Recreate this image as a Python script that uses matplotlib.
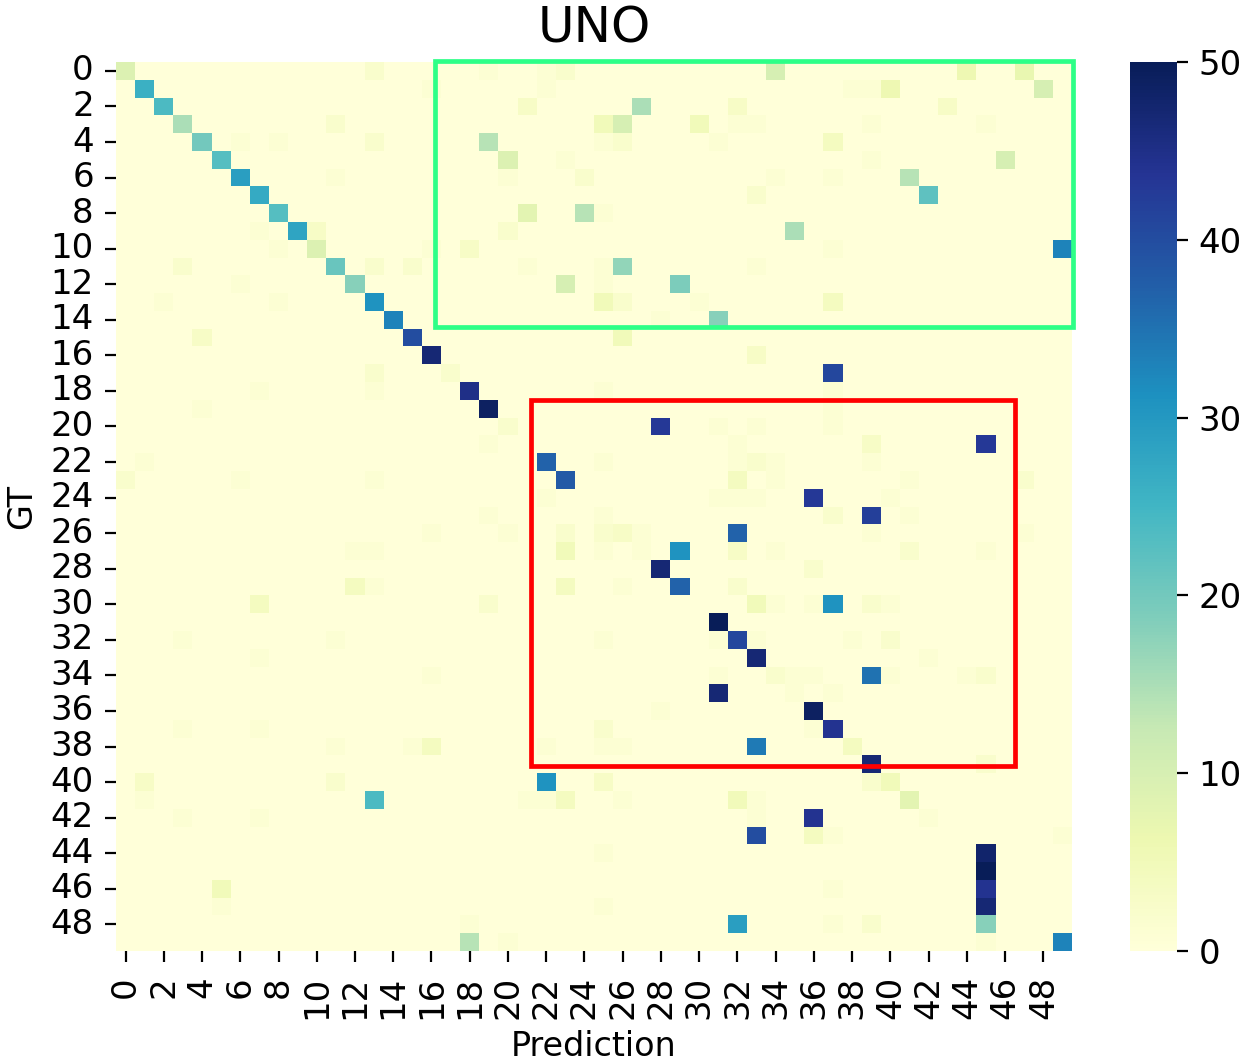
import numpy as np
import matplotlib
matplotlib.use('Agg')
import matplotlib.pyplot as plt
from matplotlib.patches import Rectangle
import seaborn as sns

n_classes = 50

# strong cells of the confusion matrix: GT row, predicted column, count
main_rows = [0, 1, 2, 3, 4, 5, 6, 7, 8, 9, 10, 11, 12, 13, 14, 15, 16, 18, 19, 22, 23,
             17, 20, 21, 24, 25, 26, 27, 28, 29, 30, 31, 32, 33, 34, 35, 36, 37, 38, 39,
             40, 41, 42, 43, 44, 45, 46, 47, 48, 48, 49, 49]
main_cols = [0, 1, 2, 3, 4, 5, 6, 7, 8, 9, 10, 11, 12, 13, 14, 15, 16, 18, 19, 22, 23,
             37, 28, 45, 36, 39, 32, 29, 28, 29, 37, 31, 32, 33, 39, 31, 36, 37, 33, 39,
             22, 13, 36, 33, 45, 45, 45, 45, 32, 45, 18, 49]
main_vals = [9, 26, 24, 15, 20, 23, 29, 27, 23, 28, 9, 21, 18, 31, 33, 40, 47, 45, 49, 37, 38,
             41, 43, 43, 43, 42, 37, 31, 47, 37, 31, 50, 41, 47, 35, 47, 49, 44, 34, 47,
             31, 24, 44, 40, 48, 50, 44, 47, 29, 18, 14, 33]

# off-diagonal cells with a clear tint
mid_rows = [0, 0, 0, 0, 0, 1, 1, 2, 2, 2, 3, 3, 3, 3, 4, 4, 4, 5, 5, 6, 7, 8, 8, 9, 10, 11, 11, 12, 12, 13, 13, 14]
mid_cols = [13, 23, 34, 44, 47, 40, 48, 21, 27, 43, 25, 26, 30, 11, 19, 37, 13, 20, 46, 41, 42, 21, 24, 35, 49, 26, 3, 23, 29, 25, 37, 31]
mid_vals = [2, 2, 10, 6, 7, 6, 10, 3, 15, 3, 5, 10, 5, 2, 14, 4, 2, 9, 10, 14, 22, 8, 14, 15, 33, 17, 2, 10, 19, 5, 4, 18]

# faint cells, top half of the matrix
low_rows = [0, 0, 1, 1, 1, 1, 2, 3, 3, 3, 3, 4, 4, 4, 4, 4, 4, 5, 5, 6, 6, 6, 6, 6, 7, 8,
            9, 9, 9, 10, 10, 10, 10, 11, 11, 11, 11, 11, 11, 12, 12, 12, 13, 13, 13, 13,
            14, 15, 15, 16, 17, 17, 18, 18, 18, 18, 19, 19, 20, 20, 20, 20, 21, 21, 21,
            22, 22, 22, 22, 22, 22, 22, 23, 23, 23, 23, 23, 23, 23, 24, 24, 24, 24, 24]
low_cols = [19, 22, 16, 22, 38, 39, 32, 32, 33, 39, 45, 6, 8, 25, 26, 31, 25, 23, 39, 11, 20, 24, 34, 37, 33, 25,
            7, 20, 10, 8, 16, 18, 37, 13, 15, 21, 25, 33, 11, 6, 25, 25, 2, 8, 26, 30,
            28, 4, 26, 33, 13, 17, 7, 13, 25, 37, 4, 37, 20, 31, 33, 37, 19, 32, 39,
            1, 25, 25, 32, 33, 34, 39, 0, 6, 13, 32, 34, 41, 47, 31, 32, 33, 40, 22]
low_vals = [1, 1, 1, 1, 1, 1, 3, 1, 1, 1, 1, 1, 1, 1, 2, 1, 1, 1, 1, 1, 1, 2, 1, 1, 2, 1,
            1, 2, 3, 1, 1, 3, 1, 2, 2, 1, 1, 1, 21, 1, 1, 1, 1, 1, 2, 1,
            1, 3, 5, 3, 2, 2, 1, 1, 1, 1, 1, 1, 2, 1, 1, 1, 1, 1, 3,
            1, 1, 1, 1, 2, 1, 1, 2, 1, 1, 4, 1, 1, 2, 1, 1, 1, 1, 1]

# faint cells, bottom half of the matrix
low2_rows = [25, 25, 25, 25, 26, 26, 26, 26, 26, 26, 26, 26, 27, 27, 27, 27, 27, 27, 27, 27, 27,
             28, 29, 29, 29, 29, 29, 30, 30, 30, 30, 30, 30, 30, 32, 32, 32, 32, 32, 32, 32,
             33, 33, 34, 34, 34, 34, 34, 34, 34, 34, 35, 35, 36, 37, 37, 37, 37, 38, 38, 38, 38, 38,
             38, 38, 39, 40, 40, 40, 40, 40, 40, 41, 41, 41, 41, 41, 41, 41, 41,
             42, 42, 42, 42, 43, 43, 43, 44, 44, 46, 46, 47, 47, 47, 48, 48, 48, 49, 49, 37]
low2_cols = [19, 25, 37, 41, 16, 20, 23, 25, 26, 27, 39, 47, 12, 13, 23, 25, 27, 32, 34, 41, 45,
             36, 12, 13, 23, 26, 32, 7, 19, 34, 36, 39, 40, 33, 3, 11, 25, 31, 33, 38, 40,
             7, 42, 16, 31, 34, 35, 36, 40, 44, 45, 35, 37, 28, 3, 7, 25, 36, 11, 15, 16, 22, 25,
             26, 38, 45, 1, 11, 25, 39, 40, 25, 1, 21, 22, 23, 26, 32, 33, 41,
             3, 7, 33, 42, 36, 37, 49, 25, 25, 5, 37, 5, 25, 25, 18, 37, 39, 20, 45, 25]
low2_vals = [1, 1, 2, 1, 1, 1, 2, 2, 3, 1, 1, 1, 1, 1, 5, 1, 1, 3, 1, 2, 1,
             2, 4, 1, 4, 1, 2, 4, 2, 1, 1, 2, 1, 5, 1, 1, 1, 1, 1, 1, 2,
             1, 1, 1, 1, 2, 1, 1, 1, 1, 2, 1, 1, 1, 1, 1, 2, 1, 1, 1, 4, 1, 1,
             1, 4, 2, 3, 2, 3, 2, 5, 3, 1, 1, 1, 4, 1, 5, 1, 8,
             1, 1, 1, 1, 4, 1, 1, 1, 1, 5, 1, 1, 1, 1, 1, 1, 2, 1, 1, 2]

title = 'UNO'
x_label = 'Prediction'
y_label = 'GT'
cbar_ticks = [0, 10, 20, 30, 40, 50]

# annotation boxes in cell units: x0, y0, x1, y1
green_box = [16.71, -0.08, 50.03, 14.9]
red_box = [21.73, 19.03, 47.04, 39.6]

matrix = np.zeros((n_classes, n_classes))
for rows, cols, vals in [(low_rows, low_cols, low_vals), (low2_rows, low2_cols, low2_vals),
                         (mid_rows, mid_cols, mid_vals), (main_rows, main_cols, main_vals)]:
    matrix[rows, cols] = vals

fig = plt.figure(figsize=(12.46, 10.62), dpi=100)
w, h = 1246.0, 1062.0
ax = fig.add_axes([116 / w, 1 - 951 / h, 956 / w, 889 / h])
cax = fig.add_axes([1130 / w, 1 - 951 / h, 47 / w, 889 / h])

sns.heatmap(matrix, ax=ax, cbar_ax=cax, cmap='YlGnBu', vmin=0, vmax=50,
            xticklabels=2, yticklabels=2)

ax.set_title(title, fontsize=36, pad=14)
ax.set_xlabel(x_label, fontsize=24, labelpad=8)
ax.set_ylabel(y_label, fontsize=24, labelpad=9)
ax.tick_params(axis='both', labelsize=24.5, length=8, width=1.6, pad=10)
ax.tick_params(axis='x', labelrotation=90)
ax.tick_params(axis='y', labelrotation=0, pad=8)

cax.tick_params(labelsize=24.5, length=8, width=1.6, pad=7.5)
cax.set_yticks(cbar_ticks)

for box, colour in [(green_box, '#2dff87'), (red_box, '#ff0000')]:
    ax.add_patch(Rectangle((box[0], box[1]), box[2] - box[0], box[3] - box[1],
                           fill=False, edgecolor=colour, linewidth=3.4,
                           joinstyle='miter', clip_on=False, zorder=5))

fig.savefig('out.png', dpi=100)
